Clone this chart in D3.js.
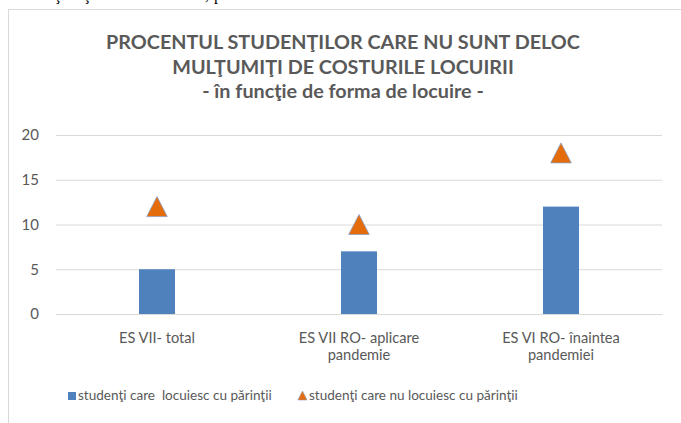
<!DOCTYPE html>
<html>
<head>
<meta charset="utf-8">
<script src="https://cdn.jsdelivr.net/npm/d3@7/dist/d3.min.js"></script>
<style>
  html, body { margin: 0; padding: 0; background: #fff; }
  svg { display: block; }
</style>
</head>
<body>
<svg id="chart" width="681" height="423"></svg>
<script>
// Chart data
const categories = ["ES VII- total", "ES VII RO- aplicare pandemie", "ES VI RO- înaintea pandemiei"];
const categoryLines = [["ES VII- total"], ["ES VII RO- aplicare", "pandemie"], ["ES VI RO- înaintea", "pandemiei"]];
const withParents = [5, 7, 12];
const withoutParents = [12, 10, 18];
const yTicks = [0, 5, 10, 15, 20];
const titleLines = [
  "PROCENTUL STUDENŢILOR CARE NU SUNT DELOC",
  "MULŢUMIŢI DE COSTURILE LOCUIRII",
  "- în funcţie de forma de locuire -"
];
const seriesNames = ["studenţi care  locuiesc cu părinţii", "studenţi care nu locuiesc cu părinţii"];

const FONT = "Lato, 'Open Sans', sans-serif";
const TEXT = "#595959";
const BLUE = "#4F81BD";
const ORANGE = "#E46C0A";

const svg = d3.select("#chart");

// Font size that makes a string span a given width
function fitSize(str, targetWidth, weight) {
  const t = svg.append("text")
    .style("font-family", FONT).style("font-weight", weight || "normal")
    .style("font-size", "20px").attr("xml:space", "preserve").text(str);
  const w = t.node().getComputedTextLength();
  t.remove();
  return 20 * targetWidth / w;
}

// Caption line of the surrounding document, running off the top edge
svg.append("text")
  .attr("x", 209).attr("y", -0.5)
  .attr("text-anchor", "end")
  .style("font-family", "'Liberation Serif', serif")
  .style("font-size", "16px")
  .attr("fill", "#000")
  .text("Procentul studenţilor nemulţumiţi de costul locuirii,");
svg.append("text")
  .attr("x", 214).attr("y", -0.5)
  .style("font-family", "'Liberation Serif', serif")
  .style("font-size", "16px")
  .attr("fill", "#000")
  .text("pe forme de locuire");

// Chart frame
svg.append("rect")
  .attr("x", 8.5).attr("y", 9.5)
  .attr("width", 720).attr("height", 500)
  .attr("fill", "#fff")
  .attr("stroke", "#D9D9D9")
  .attr("stroke-width", 1);

// Title
const titleBaselines = [49, 74, 98];
const titleSize = fitSize(titleLines[0], 474, "bold");
const title = svg.append("g");
titleLines.forEach((line, i) => {
  title.append("text")
    .attr("x", 343).attr("y", titleBaselines[i])
    .attr("text-anchor", "middle")
    .style("font-family", FONT).style("font-weight", "bold")
    .style("font-size", titleSize + "px")
    .attr("fill", TEXT)
    .text(line);
});

// Scales
const x = d3.scaleBand().domain(categories).range([56, 662]).padding(0);
const y = d3.scaleLinear().domain([0, 20]).range([314, 135]);

// Y axis with gridlines
const yAxis = svg.append("g")
  .attr("transform", "translate(56,0)")
  .call(d3.axisLeft(y).tickValues(yTicks).tickSize(-(662 - 56)).tickPadding(17));
yAxis.select(".domain").remove();
yAxis.selectAll(".tick line").attr("stroke", "#D9D9D9").attr("stroke-width", 1);
yAxis.selectAll(".tick text")
  .style("font-family", FONT).style("font-size", "15px").attr("fill", TEXT);

// X axis labels
const labelSize = fitSize(categoryLines[0][0], 76);
const xAxis = svg.append("g")
  .attr("transform", "translate(0,314)")
  .call(d3.axisBottom(x).tickSize(0).tickFormat(""));
xAxis.select(".domain").attr("stroke", "#D9D9D9");
xAxis.selectAll(".tick").each(function(d, i) {
  const t = d3.select(this).append("text")
    .attr("text-anchor", "middle")
    .style("font-family", FONT).style("font-size", labelSize + "px")
    .attr("fill", TEXT);
  categoryLines[i].forEach((ln, j) => {
    t.append("tspan").attr("x", 0).attr("y", 29 + j * 17).text(ln);
  });
});

// Bars
const barW = 36;
svg.append("g").selectAll("rect")
  .data(withParents)
  .join("rect")
  .attr("x", (d, i) => x(categories[i]) + x.bandwidth() / 2 - barW / 2)
  .attr("y", d => y(d))
  .attr("width", barW)
  .attr("height", d => y(0) - y(d))
  .attr("fill", BLUE);

// Triangle markers
function triangle(cx, cy, h, hw) {
  const p = d3.path();
  p.moveTo(cx, cy - h / 2);
  p.lineTo(cx + hw, cy + h / 2);
  p.lineTo(cx - hw, cy + h / 2);
  p.closePath();
  return p.toString();
}
svg.append("g").selectAll("path")
  .data(withoutParents)
  .join("path")
  .attr("d", (d, i) => triangle(x(categories[i]) + x.bandwidth() / 2, y(d), 20, 10.3))
  .attr("fill", ORANGE)
  .attr("stroke", "#8A9FC7")
  .attr("stroke-width", 0.8);

// Legend
const legendSize = fitSize(seriesNames[1], 209);
const legend = svg.append("g");
legend.append("rect")
  .attr("x", 68).attr("y", 392).attr("width", 8).attr("height", 8)
  .attr("fill", BLUE);
legend.append("text")
  .attr("x", 78).attr("y", 400)
  .style("font-family", FONT).style("font-size", legendSize + "px")
  .attr("fill", TEXT)
  .attr("xml:space", "preserve")
  .text(seriesNames[0]);
legend.append("path")
  .attr("d", triangle(302.5, 395.5, 9, 4.6))
  .attr("fill", ORANGE).attr("stroke", "#8A9FC7").attr("stroke-width", 0.6);
legend.append("text")
  .attr("x", 309).attr("y", 400)
  .style("font-family", FONT).style("font-size", legendSize + "px")
  .attr("fill", TEXT)
  .text(seriesNames[1]);
</script>
</body>
</html>
